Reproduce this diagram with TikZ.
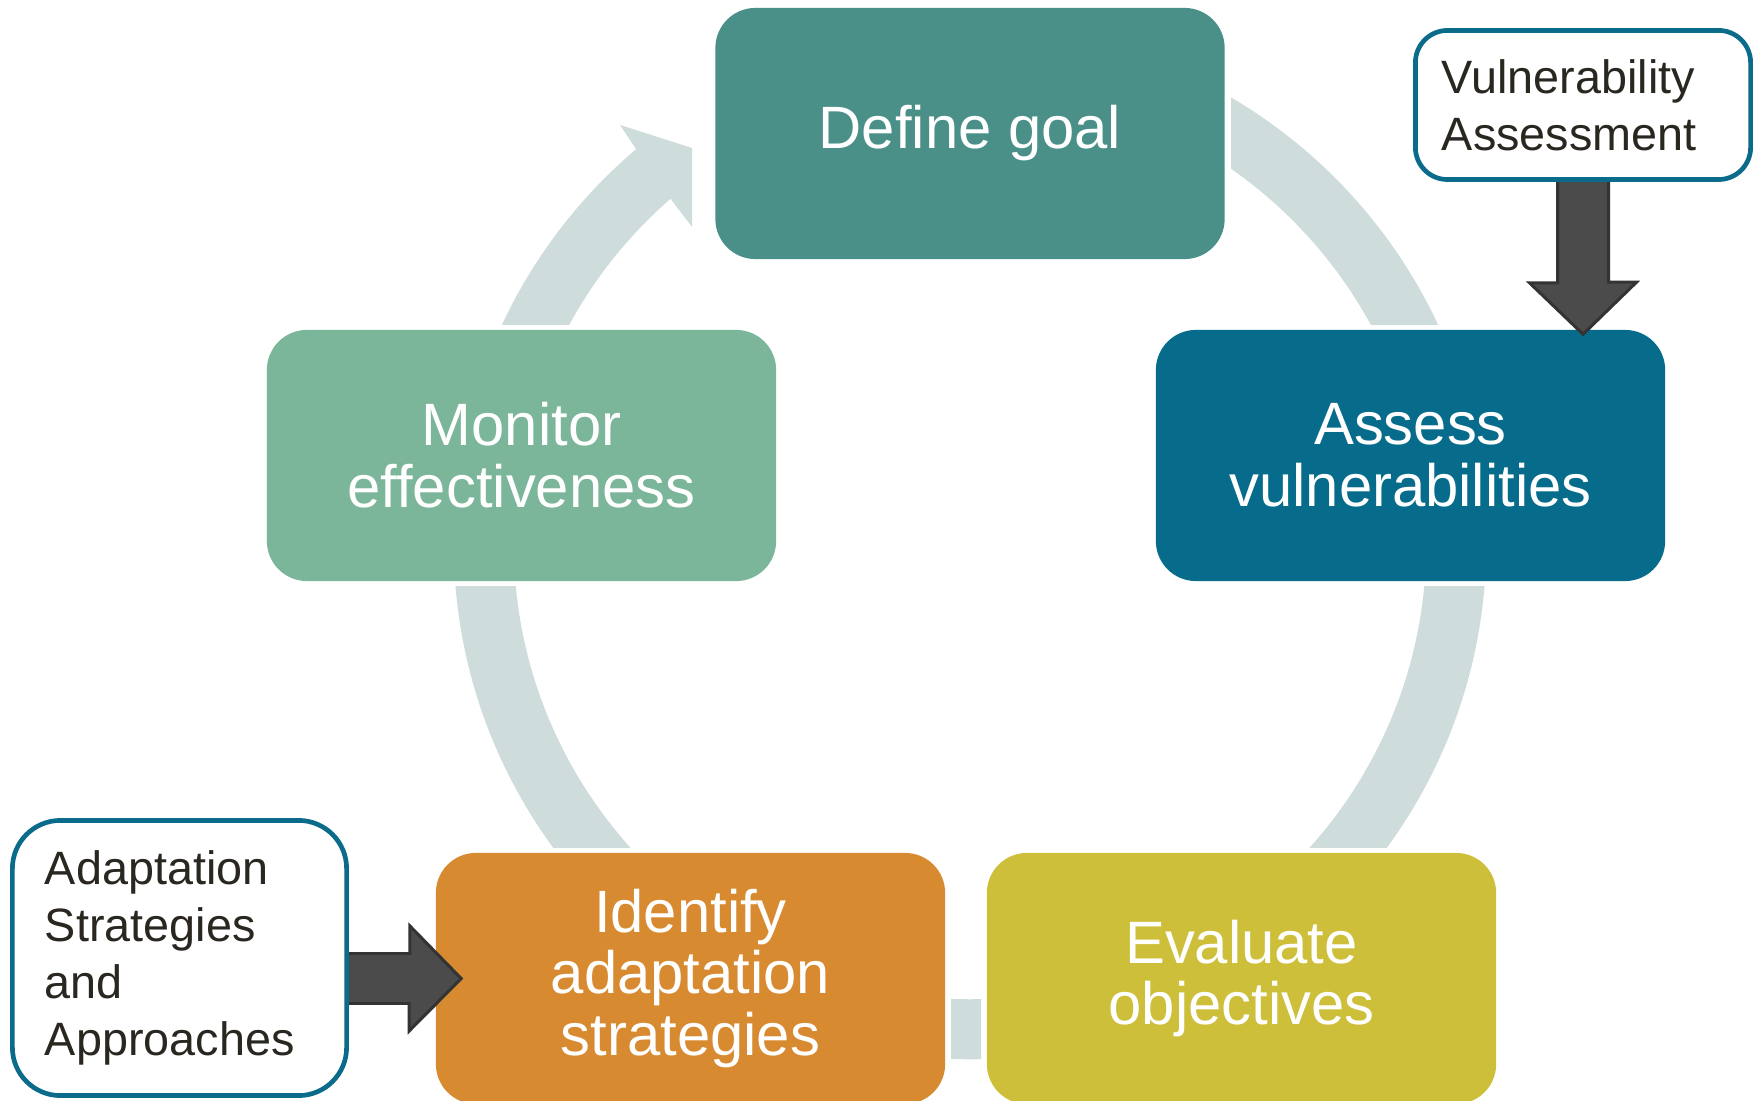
\documentclass[tikz,border=0pt]{standalone}
\usepackage{fontspec}
\setmainfont{Liberation Sans}
\usepackage{xcolor}
\usepackage{tikz}
\usetikzlibrary{positioning}
\usetikzlibrary{calc}

\definecolor{goalcol}{RGB}{74,144,137}
\definecolor{assesscol}{RGB}{7,108,139}
\definecolor{evalcol}{RGB}{205,191,58}
\definecolor{identcol}{RGB}{216,138,48}
\definecolor{monitorcol}{RGB}{123,181,154}
\definecolor{ringcol}{RGB}{207,220,220}
\definecolor{notecol}{RGB}{10,107,138}
\definecolor{notetext}{RGB}{42,39,32}
\definecolor{arrowfill}{RGB}{75,75,75}
\definecolor{arrowline}{RGB}{51,51,51}

\pgfdeclarelayer{back}
\pgfdeclarelayer{mid}
\pgfsetlayers{back,mid,main}

\tikzstyle{stepbox}=[rectangle,rounded corners=0.4cm,minimum width=5.09cm,minimum height=2.51cm,inner sep=0pt,text=white,align=center,font=\fontsize{17}{17.6}\selectfont]
\tikzstyle{notebox}=[rectangle,draw=notecol,line width=1.33pt,fill=white,inner sep=0pt,text=notetext,align=left,font=\fontsize{13.3}{16.2}\selectfont]
\tikzstyle{blockarrow}=[draw=arrowline,fill=arrowfill,line width=0.85pt,line join=miter]
\tikzstyle{ringpart}=[fill=ringcol,even odd rule]

\begin{document}
\begin{tikzpicture}[x=0.01cm,y=-0.01cm]

 \useasboundingbox (0,0) rectangle (1758,1101);
 \clip (0,0) rectangle (1758,1101);

 \coordinate (ctr) at (970,543);

 \begin{pgfonlayer}{back}
 %ring between the steps
 \foreach \xa/\ya/\xb/\yb in {1231/0/1758/325, 970/587/1758/847, 951/900/981/1101, 0/587/970/847}
 {
   \begin{scope}
     \clip (\xa,\ya) rectangle (\xb,\yb);
     \path[ringpart] (ctr) circle (5.16cm) (ctr) circle (4.56cm);
   \end{scope}
 }

 %last part, with the head
 \begin{scope}
   \clip (0,0) -- (535,0) -- (762,325) -- (0,325) -- cycle;
   \path[ringpart] (ctr) circle (5.16cm) (ctr) circle (4.56cm);
 \end{scope}
 \fill[ringcol] (638,152) -- (620,125) -- (692,148) -- (692,227) -- (673,202) -- cycle;

 %steps
 \foreach \x/\y/\name/\col/\label in {970/133.5/goal/goalcol/{Define goal}, 1410.5/455.5/assess/assesscol/{Assess\\vulnerabilities}, 1241.5/978.5/evaluate/evalcol/{Evaluate\\objectives}, 690.5/978.5/identify/identcol/{Identify\\adaptation\\strategies}, 521.5/455.5/monitor/monitorcol/{Monitor\\effectiveness}}
   \node[stepbox,fill=\col] (\name) at (\x,\y) {\label};
 \end{pgfonlayer}

 %inputs
 \node[notebox,minimum width=3.35cm,minimum height=1.49cm,text width=2.82cm,rounded corners=0.32cm] (vuln) at (1583,105) {Vulnerability\\Assessment};
 \node[notebox,minimum width=3.34cm,minimum height=2.75cm,text width=2.69cm,rounded corners=0.48cm] (adapt) at (179.5,958) {Adaptation\\Strategies\\and\\Approaches};

 \coordinate (vtip) at ($(vuln.south |- assess.north)+(0,5)$);
 \coordinate (atip) at ($(identify.west)+(26,0)$);

 \begin{pgfonlayer}{mid}
 \draw[blockarrow] ($(vuln.south)+(-25.5,-3)$) -- ++(0,104) -- ++(-28,0) -- (vtip) -- ++(53.5,-52) -- ++(-28,0) -- ($(vuln.south)+(25.5,-3)$) -- cycle;
 \draw[blockarrow] ($(adapt.east |- atip)+(-3,-25)$) -- ++(64,0) -- ++(0,-27.5) -- (atip) -- ++(-52,52.5) -- ++(0,-27.5) -- ($(adapt.east |- atip)+(-3,25)$) -- cycle;
 \end{pgfonlayer}

\end{tikzpicture}
\end{document}
